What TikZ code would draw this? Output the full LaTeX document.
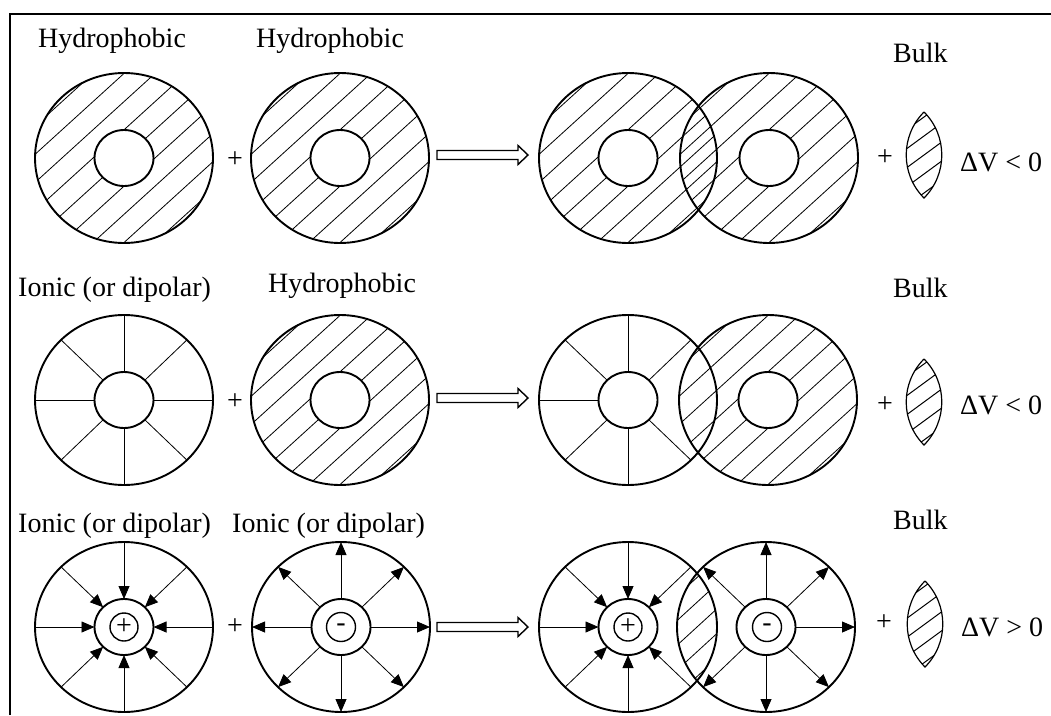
\documentclass[tikz,border=0pt]{standalone}
\usepackage{fontspec}
\setmainfont{Liberation Serif}
\usetikzlibrary{arrows.meta}
\tikzset{
  ring/.style={line width=1.9pt},
  core/.style={line width=1.4pt},
  radial/.style={line width=0.8pt},
  hatch/.style={line width=0.8pt},
  lensline/.style={line width=1.2pt},
  arr/.style={line width=0.8pt,-{Triangle[length=13pt,width=11pt]}},
  lbl/.style={font=\fontsize{28}{32}\selectfont, inner sep=0pt, anchor=base west},
  sym/.style={font=\fontsize{28}{32}\selectfont, inner sep=0pt},
  bigarrow/.style={line width=1.4pt, fill=white}
}
% outer ring outline
\newcommand{\outline}[2]{%
  \draw[ring] (#1,#2) ellipse [x radius=89pt, y radius=85pt];
  \draw[ring] (#1,#2) ellipse [x radius=29.5pt, y radius=28pt];}
% hatched annulus
\newcommand{\hatchann}[2]{%
  \begin{scope}[even odd rule]
    \clip (#1,#2) ellipse [x radius=89pt, y radius=85pt]
          (#1,#2) ellipse [x radius=29.5pt, y radius=28pt];
    \foreach \k in {-5,...,5}
      \draw[hatch,shift={(#1,#2)}] (\k*31-110,100) -- ++(220,-200);
  \end{scope}}
% radial spokes
\newcommand{\spokes}[3]{%
  \foreach \a in {#3}
    \draw[radial] ([shift={(#1,#2)}]\a:29.5pt and 28pt) -- ([shift={(#1,#2)}]\a:89pt and 85pt);}
% inward arrows
\newcommand{\inarrows}[3]{%
  \foreach \a in {#3}
    \draw[arr] ([shift={(#1,#2)}]\a:89pt and 85pt) -- ([shift={(#1,#2)}]\a:29.5pt and 28pt);}
% outward arrows
\newcommand{\outarrows}[3]{%
  \foreach \a in {#3}
    \draw[arr] ([shift={(#1,#2)}]\a:29.5pt and 28pt) -- ([shift={(#1,#2)}]\a:89pt and 85pt);}
% hollow implication arrow
\newcommand{\hollowarrow}[1]{%
  \draw[bigarrow] (437,#1-4.5) -- (518,#1-4.5) -- (518,#1-9.5) -- (528,#1) -- (518,#1+9.5)
     -- (518,#1+4.5) -- (437,#1+4.5) -- cycle;}
% bulk lens
\newcommand{\bulklens}[2]{%
  \begin{scope}
    \clip (#1,#2-43) to[bend left=45] (#1,#2+43) to[bend left=45] (#1,#2-43);
    \foreach \k in {-2,...,2}
      \draw[hatch,line width=1pt,shift={(#1,#2)}] (-30,\k*19+22) -- ++(60,-44);
  \end{scope}
  \draw[lensline] (#1,#2-43) to[bend left=45] (#1,#2+43) to[bend left=45] (#1,#2-43);}
\begin{document}
\begin{tikzpicture}[x=1pt,y=-1pt]
\useasboundingbox (0,0) rectangle (1051,715);
\draw[line width=2pt] (10,715) -- (10,14) -- (1051,14);

% ---------------- Row 1 ----------------
\node[lbl] (h11) at (38,47) {Hydrophobic};
\node[lbl] (h12) at (256,47) {Hydrophobic};
\node[lbl] (b1) at (893,62) {Bulk};
\hatchann{124}{158}\outline{124}{158}
\node[sym] (p11) at (235,160) {+};
\hatchann{340}{158}\outline{340}{158}
\hollowarrow{155}
\hatchann{628}{158}\hatchann{769}{158}
\outline{628}{158}\outline{769}{158}
\node[sym] (p12) at (885,158) {+};
\bulklens{924}{155}
\node[lbl] (dv1) at (960,171) {ΔV < 0};

% ---------------- Row 2 ----------------
\node[lbl] (i21) at (18,296) {Ionic (or dipolar)};
\node[lbl] (h22) at (268,292) {Hydrophobic};
\node[lbl] (b2) at (893,297) {Bulk};
\spokes{124}{400}{0,45,...,315}\outline{124}{400}
\node[sym] (p21) at (235,402) {+};
\hatchann{340}{400}\outline{340}{400}
\hollowarrow{398}
\spokes{628}{400}{45,90,135,180,225,270,315}\hatchann{768}{400}
\outline{628}{400}\outline{768}{400}
\node[sym] (p22) at (885,405) {+};
\bulklens{924}{402}
\node[lbl] (dv2) at (960,414) {ΔV < 0};

% ---------------- Row 3 ----------------
\node[lbl] (i31) at (18,532) {Ionic (or dipolar)};
\node[lbl] (i32) at (232,532) {Ionic (or dipolar)};
\node[lbl] (b3) at (893,529) {Bulk};
\inarrows{124}{627}{0,45,...,315}\outline{124}{627}
\draw[core] (124,627) circle [radius=14pt];
\node[sym,font=\fontsize{28}{32}\selectfont] (q1) at (124,627) {+};
\node[sym] (p31) at (235,627) {+};
\outarrows{341}{627}{0,45,...,315}\outline{341}{627}
\draw[core] (341,627) circle [radius=14.5pt];
\node[sym] (q2) at (341,628) {-};
\hollowarrow{627}
\begin{scope}
  \clip (628,627) ellipse [x radius=89pt, y radius=85pt];
  \clip (766,627) ellipse [x radius=89pt, y radius=85pt];
  \foreach \k in {-2,...,2}
    \draw[hatch,shift={(697,627)}] (\k*27-60,55) -- ++(120,-110);
\end{scope}
\inarrows{628}{627}{45,90,135,180,225,270,315}
\outarrows{766}{627}{0,45,90,135,225,270,315}
\outline{628}{627}\outline{766}{627}
\draw[core] (628,627) circle [radius=14pt];
\node[sym,font=\fontsize{28}{32}\selectfont] (q3) at (628,627) {+};
\draw[core] (767,627) circle [radius=14.5pt];
\node[sym] (q4) at (767,628) {-};
\node[sym] (p32) at (884,623) {+};
\bulklens{925}{624}
\node[lbl] (dv3) at (961,636) {ΔV > 0};
\end{tikzpicture}
\end{document}
